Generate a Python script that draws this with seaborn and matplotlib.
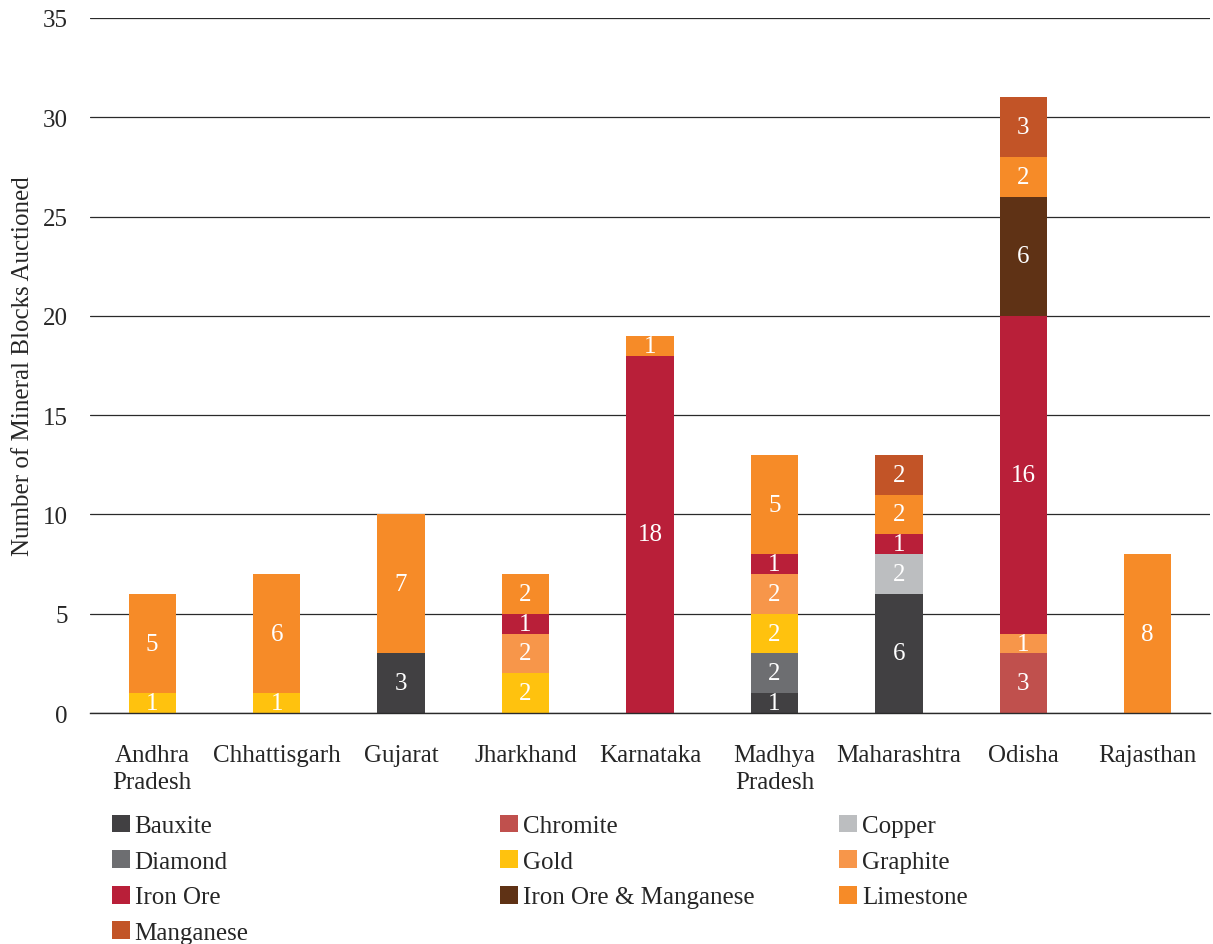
import matplotlib
matplotlib.use("Agg")
import matplotlib.pyplot as plt
import seaborn as sns
import numpy as np
from matplotlib.patches import Patch

states = ["Andhra\nPradesh", "Chhattisgarh", "Gujarat", "Jharkhand", "Karnataka",
          "Madhya\nPradesh", "Maharashtra", "Odisha", "Rajasthan"]
minerals = ["Bauxite", "Chromite", "Copper", "Diamond", "Gold", "Graphite",
            "Iron Ore", "Iron Ore & Manganese", "Limestone", "Manganese"]
bauxite   = [0, 0, 3, 0, 0, 1, 6, 0, 0]
chromite  = [0, 0, 0, 0, 0, 0, 0, 3, 0]
copper    = [0, 0, 0, 0, 0, 0, 2, 0, 0]
diamond   = [0, 0, 0, 0, 0, 2, 0, 0, 0]
gold      = [1, 1, 0, 2, 0, 2, 0, 0, 0]
graphite  = [0, 0, 0, 2, 0, 2, 0, 1, 0]
iron_ore  = [0, 0, 0, 1, 18, 1, 1, 16, 0]
iron_mn   = [0, 0, 0, 0, 0, 0, 0, 6, 0]
limestone = [5, 6, 7, 2, 1, 5, 2, 2, 8]
manganese = [0, 0, 0, 0, 0, 0, 2, 3, 0]
series = [bauxite, chromite, copper, diamond, gold, graphite, iron_ore, iron_mn, limestone, manganese]
colors = ["#414042", "#C0504D", "#BCBEC0", "#6D6E71", "#FFC20E", "#F7964A",
          "#B91F39", "#5F3215", "#F68B28", "#C25427"]

sns.set_style("white")
plt.rcParams["font.family"] = ["Liberation Serif", "DejaVu Serif"]
FS = 18

fig = plt.figure(figsize=(12.13, 9.45), dpi=100)
ax = fig.add_axes([0.0742, 0.2444, 0.9233, 0.7355])

cum = np.zeros(len(states))
for name, vals, col in zip(minerals, series, colors):
    vals = np.array(vals, dtype=float)
    sns.barplot(x=states, y=vals, bottom=cum, color=col, width=0.38,
                order=states, errorbar=None, ax=ax, saturation=1, linewidth=0)
    for i, v in enumerate(vals):
        if v > 0:
            ax.text(i, cum[i] + v / 2, f"{int(v)}", ha="center", va="center",
                    color="white", fontsize=FS)
    cum += vals

ax.set_ylim(0, 35)
ax.set_xlim(-0.5, len(states) - 0.5)
ax.set_yticks(range(0, 36, 5))
ax.yaxis.grid(True, color="#2a2a2a", linewidth=0.9)
ax.set_axisbelow(True)
for s in ["left", "right", "top"]:
    ax.spines[s].set_visible(False)
ax.spines["bottom"].set_color("#2a2a2a")
ax.spines["bottom"].set_linewidth(1.0)
ax.tick_params(axis="y", length=0, pad=16, labelsize=FS)
ax.tick_params(axis="x", which="major", length=0, pad=22, labelsize=FS)
ax.set_xticks(np.arange(-0.5, len(states), 1.0), minor=True)
ax.tick_params(axis="x", which="minor", length=8, width=1.0, color="#2a2a2a", direction="out")
ax.set_ylabel("Number of Mineral Blocks Auctioned", fontsize=FS, labelpad=6)
ax.set_xlabel("")
for lbl in ax.get_xticklabels():
    lbl.set_linespacing(1.3)

col_groups = [[0, 3, 6, 9], [1, 4, 7], [2, 5, 8]]
col_x = [0.092, 0.412, 0.692]
for grp, x in zip(col_groups, col_x):
    handles = [Patch(facecolor=colors[k], edgecolor="none", label=minerals[k]) for k in grp]
    leg = fig.legend(handles=handles, loc="upper left", bbox_to_anchor=(x, 0.137),
                     frameon=False, fontsize=FS, handlelength=0.72, handleheight=0.72,
                     handletextpad=0.2, labelspacing=0.52, borderaxespad=0, borderpad=0)

fig.savefig("out.png", dpi=100)
